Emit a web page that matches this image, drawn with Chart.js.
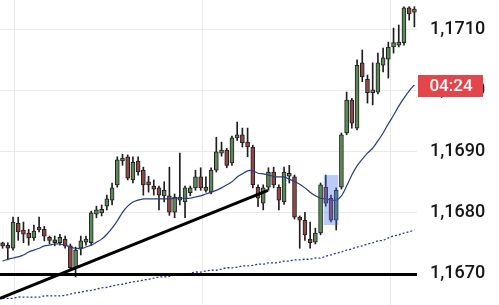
<!DOCTYPE html>
<html>
<head>
<meta charset="utf-8">
<script src="https://cdn.jsdelivr.net/npm/chart.js@4/dist/chart.umd.min.js"></script>
<style>
  html, body { margin: 0; padding: 0; background: #fff; }
  #wrap { width: 499px; height: 305px; }
</style>
</head>
<body>
<div id="wrap"><canvas id="candles"></canvas></div>
<script>
  // candles, oldest first
  const opens = [
    1.16749, 1.16747, 1.16742, 1.16783, 1.16772, 1.16767, 1.16759, 1.16773, 1.16773, 1.1676,
    1.16755, 1.16751, 1.16757, 1.16746, 1.1671, 1.16742, 1.16752, 1.16751, 1.16798, 1.168,
    1.16811, 1.16821, 1.16846, 1.16885, 1.16892, 1.16854, 1.16885, 1.1687, 1.16851, 1.16844,
    1.16841, 1.16828, 1.16828, 1.16801, 1.16821, 1.16818, 1.16833, 1.16841, 1.16859, 1.16837,
    1.16834, 1.1687, 1.16898, 1.16903, 1.16882, 1.16923, 1.16928, 1.16916, 1.16908, 1.16842,
    1.16816, 1.16842, 1.16867, 1.16842, 1.16818, 1.1686, 1.16859, 1.16793, 1.16788, 1.16757,
    1.16752, 1.16767, 1.16842, 1.16824, 1.16788, 1.16842, 1.16931, 1.16985, 1.16939, 1.17046,
    1.17019, 1.16997, 1.16998, 1.17042, 1.17052, 1.17072, 1.17075, 1.17079, 1.17136, 1.17129
  ]
  const highs = [
    1.16752, 1.16751, 1.16793, 1.16793, 1.16785, 1.16773, 1.1678, 1.16793, 1.16778, 1.16762,
    1.16762, 1.16765, 1.16762, 1.16749, 1.16744, 1.16762, 1.16762, 1.16803, 1.16811, 1.16813,
    1.16829, 1.16849, 1.16892, 1.16896, 1.16895, 1.16892, 1.16892, 1.16875, 1.1686, 1.16854,
    1.16844, 1.16851, 1.16875, 1.16831, 1.16898, 1.16844, 1.16844, 1.1687, 1.16874, 1.16859,
    1.16874, 1.16924, 1.16916, 1.16906, 1.16926, 1.16949, 1.16939, 1.16939, 1.16911, 1.16846,
    1.16846, 1.16874, 1.16875, 1.16846, 1.16875, 1.16878, 1.16862, 1.16795, 1.16801, 1.16785,
    1.16775, 1.16849, 1.16862, 1.16829, 1.16841, 1.16931, 1.16998, 1.16988, 1.17051, 1.17067,
    1.17026, 1.17046, 1.17062, 1.1707, 1.1708, 1.17103, 1.17108, 1.17138, 1.17138, 1.17138
  ]
  const lows = [
    1.16742, 1.16723, 1.16739, 1.16755, 1.16751, 1.16747, 1.16755, 1.16769, 1.16754, 1.16749,
    1.16746, 1.16747, 1.16742, 1.16706, 1.16695, 1.16731, 1.16747, 1.16747, 1.16792, 1.16795,
    1.16805, 1.16813, 1.16842, 1.16878, 1.16854, 1.16849, 1.16862, 1.16829, 1.16834, 1.16829,
    1.16805, 1.16818, 1.16796, 1.16792, 1.16813, 1.16792, 1.16828, 1.16837, 1.16837, 1.16834,
    1.16831, 1.16867, 1.16893, 1.16874, 1.16878, 1.16919, 1.16908, 1.16892, 1.16841, 1.1681,
    1.16805, 1.16837, 1.16841, 1.16805, 1.16814, 1.16849, 1.1679, 1.16742, 1.16755, 1.16742,
    1.16749, 1.16764, 1.16811, 1.16785, 1.16772, 1.16839, 1.16928, 1.16939, 1.16936, 1.17015,
    1.1698, 1.16977, 1.16995, 1.17031, 1.17021, 1.17062, 1.17072, 1.17075, 1.17116, 1.17105
  ]
  const closes = [
    1.16746, 1.16742, 1.16785, 1.16769, 1.16765, 1.16759, 1.1677, 1.16772, 1.16762, 1.16755,
    1.16751, 1.1676, 1.16746, 1.1671, 1.16739, 1.16754, 1.16754, 1.168, 1.16805, 1.16806,
    1.16823, 1.16841, 1.16887, 1.1689, 1.16857, 1.16883, 1.16867, 1.16846, 1.16846, 1.16839,
    1.16829, 1.16837, 1.16801, 1.16826, 1.16824, 1.16841, 1.16841, 1.16859, 1.16841, 1.16839,
    1.1687, 1.169, 1.16903, 1.16878, 1.16923, 1.16928, 1.16915, 1.16908, 1.16846, 1.16824,
    1.16841, 1.16867, 1.16846, 1.16821, 1.16867, 1.16865, 1.16793, 1.16788, 1.16764, 1.16751,
    1.16767, 1.16846, 1.16816, 1.16788, 1.16837, 1.16928, 1.16985, 1.16947, 1.17042, 1.17023,
    1.16997, 1.17, 1.17046, 1.17054, 1.17072, 1.17079, 1.17079, 1.17136, 1.17126, 1.17133
  ]
  // fast moving average (solid)
  const maFast = [
    1.16721, 1.16724, 1.16726, 1.16728, 1.16731, 1.16736, 1.16739, 1.16742, 1.16746, 1.16747,
    1.16749, 1.16749, 1.16747, 1.16744, 1.16742, 1.16741, 1.16744, 1.16747, 1.16752, 1.16757,
    1.16765, 1.16775, 1.16787, 1.16801, 1.16811, 1.16818, 1.16821, 1.16823, 1.16823, 1.16823,
    1.16823, 1.16823, 1.16823, 1.16824, 1.16824, 1.16824, 1.16824, 1.16826, 1.16828, 1.16831,
    1.16834, 1.16837, 1.16841, 1.16846, 1.16851, 1.16859, 1.16864, 1.16869, 1.16869, 1.16865,
    1.16864, 1.16862, 1.1686, 1.16859, 1.16859, 1.16855, 1.16852, 1.16847, 1.16841, 1.16834,
    1.16828, 1.16824, 1.16823, 1.16821, 1.16821, 1.16828, 1.16844, 1.16862, 1.16877, 1.16888,
    1.16898, 1.16906, 1.16918, 1.16931, 1.16946, 1.1696, 1.16975, 1.16988, 1.17, 1.1701
  ]
  // slow moving average (dotted)
  const maSlow = [
    1.1666, 1.1666, 1.1666, 1.16662, 1.16662, 1.16662, 1.16662, 1.16662, 1.16664, 1.16664,
    1.16664, 1.16664, 1.16665, 1.16667, 1.16669, 1.1667, 1.16672, 1.16673, 1.16675, 1.16677,
    1.16678, 1.1668, 1.16682, 1.16683, 1.16685, 1.16687, 1.16688, 1.1669, 1.16691, 1.16693,
    1.16695, 1.16695, 1.16696, 1.16698, 1.167, 1.167, 1.16701, 1.16703, 1.16703, 1.16705,
    1.16706, 1.16706, 1.16708, 1.1671, 1.1671, 1.16711, 1.16713, 1.16713, 1.16714, 1.16716,
    1.16716, 1.16718, 1.16718, 1.16719, 1.16721, 1.16721, 1.16723, 1.16723, 1.16724, 1.16724,
    1.16726, 1.16726, 1.16729, 1.16731, 1.16734, 1.16736, 1.16739, 1.16741, 1.16744, 1.16746,
    1.16749, 1.16751, 1.16754, 1.16755, 1.16759, 1.16762, 1.16764, 1.16767, 1.16769, 1.16772
  ]
  const yTicks = [1.1670, 1.1680, 1.1690, 1.1700, 1.1710]
  const xGrid = [2.2, 38.3, 74.4]           // vertical grid lines, in candle index units
  const supportLevel = 1.16699
  const trendLine = [{ x: -0.5, y: 1.1666 }, { x: 50.9, y: 1.16837 }]
  const highlight = { from: 61.6, to: 64.4, top: 1.16862, bottom: 1.1678 }
  const timerText = '04:24'
  const timerPrice = 1.17008

  const categories = opens.map((_, i) => i + 1)
  const upColor = '#5c8a56'
  const downColor = '#8e4848'

  const overlays = {
    id: 'overlays',
    afterDatasetsDraw (chart) {
      const { ctx, scales: { x2, y } } = chart
      const x0 = x2.getPixelForValue(highlight.from)
      const x1 = x2.getPixelForValue(highlight.to)
      const y0 = y.getPixelForValue(highlight.top)
      const y1 = y.getPixelForValue(highlight.bottom)
      ctx.save()
      ctx.fillStyle = 'rgba(80, 115, 235, 0.38)'
      ctx.fillRect(x0, y0, x1 - x0, y1 - y0)
      ctx.restore()
    },
    afterDraw (chart) {
      const { ctx, chartArea, scales: { y } } = chart
      const cy = y.getPixelForValue(timerPrice)
      ctx.save()
      ctx.fillStyle = '#e2454b'
      ctx.fillRect(chartArea.right + 1, cy - 11, 65, 22)
      ctx.fillStyle = '#fff'
      ctx.font = '500 17px Roboto'
      ctx.textAlign = 'center'
      ctx.textBaseline = 'middle'
      ctx.fillText(timerText, chartArea.right + 34, cy + 1)
      ctx.restore()
    }
  }

  const ctx = document.getElementById('candles')
  // eslint-disable-next-line no-unused-vars
  const chart = new Chart(ctx, {
    type: 'bar',
    data: {
      labels: categories,
      datasets: [
        {
          type: 'line',
          label: 'trend',
          xAxisID: 'x2',
          data: trendLine,
          borderColor: '#000',
          borderWidth: 3,
          pointRadius: 0,
          order: 0
        },
        {
          type: 'line',
          label: 'support',
          xAxisID: 'x2',
          data: [{ x: -0.5, y: supportLevel }, { x: 79.5, y: supportLevel }],
          borderColor: '#000',
          borderWidth: 3,
          pointRadius: 0,
          order: 0
        },
        {
          type: 'line',
          label: 'MA fast',
          data: maFast,
          borderColor: '#2c3a7e',
          borderWidth: 1.2,
          pointRadius: 0,
          tension: 0.3,
          order: 0
        },
        {
          type: 'line',
          label: 'MA slow',
          data: maSlow,
          borderColor: '#2c3a7e',
          borderWidth: 1.3,
          borderDash: [2, 2],
          pointRadius: 0,
          tension: 0.3,
          order: 0
        },
        {
          label: 'body',
          data: opens.map((o, i) => [o, closes[i]]),
          backgroundColor: opens.map((o, i) => closes[i] >= o ? upColor : downColor),
          borderColor: '#1e1e1e',
          borderWidth: 1,
          borderSkipped: false,
          barThickness: 4,
          minBarLength: 3,
          grouped: false,
          order: 1
        },
        {
          label: 'wick',
          data: lows.map((l, i) => [l, highs[i]]),
          backgroundColor: '#1e1e1e',
          barThickness: 1,
          grouped: false,
          order: 2
        }
      ]
    },
    options: {
      responsive: true,
      maintainAspectRatio: false,
      animation: false,
      layout: { padding: 0 },
      plugins: {
        legend: { display: false },
        tooltip: { enabled: false }
      },
      scales: {
        x: {
          display: false
        },
        x2: {
          type: 'linear',
          position: 'bottom',
          offset: false,
          min: -0.5,
          max: 79.5,
          afterBuildTicks: (scale) => { scale.ticks = xGrid.map(v => ({ value: v })) },
          afterFit: (scale) => {
            scale.height = 0
            scale.paddingLeft = 0
            scale.paddingRight = 0
          },
          ticks: { display: false },
          grid: { color: '#e9e9e9', lineWidth: 1, drawTicks: false, offset: false },
          border: { display: false }
        },
        y: {
          position: 'right',
          offset: false,
          min: 1.16649,
          max: 1.17149,
          afterBuildTicks: (scale) => { scale.ticks = yTicks.map(v => ({ value: v })) },
          afterFit: (scale) => {
            scale.width = 82
            scale.paddingTop = 0
            scale.paddingBottom = 0
          },
          ticks: {
            padding: 13,
            color: '#161616',
            font: { family: 'Roboto', size: 18, weight: 500 },
            callback: (v) => v.toFixed(4).replace('.', ',')
          },
          grid: { color: '#e9e9e9', lineWidth: 1, drawTicks: false, offset: false },
          border: { display: false }
        }
      }
    },
    plugins: [overlays]
  })
</script>
</body>
</html>
